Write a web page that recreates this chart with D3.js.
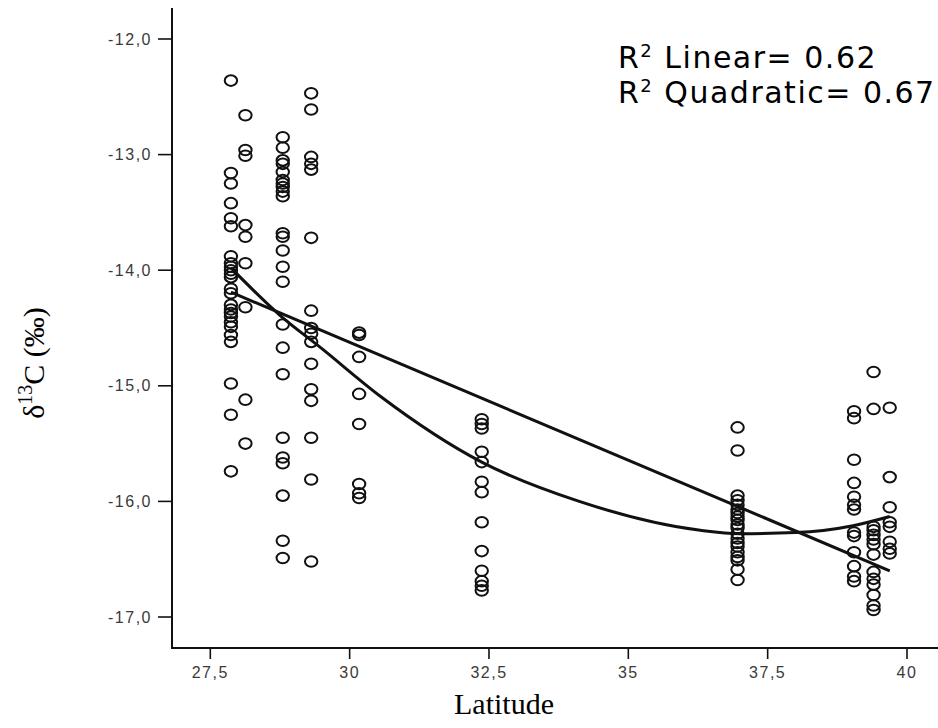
<!DOCTYPE html>
<html>
<head>
<meta charset="utf-8">
<script src="https://cdn.jsdelivr.net/npm/d3@7"></script>
<style>
  html, body { margin: 0; padding: 0; background: #fff; }
  svg { display: block; }
  .tick-label { font-family: "Liberation Sans Narrow", "Arial Narrow", "Liberation Sans", sans-serif; font-size: 16px; fill: #3a3a3a; letter-spacing: 1.5px; }
  .axis-title { font-family: "Liberation Serif", "Times New Roman", serif; fill: #000; }
  .fit-label { font-family: "DejaVu Sans", Verdana, sans-serif; font-size: 30px; letter-spacing: 1.5px; fill: #000; }
</style>
</head>
<body>
<script>
// Sampling sites: latitude of each site and the δ13C values measured there (‰)
const siteLatitudes = [27.87, 28.13, 28.80, 29.31, 30.17, 32.37, 36.96, 39.05, 39.40, 39.69];

const site1 = [-12.36, -13.16, -13.25, -13.42, -13.55, -13.62, -13.88, -13.94, -13.97, -14.00,
               -14.03, -14.06, -14.16, -14.20, -14.30, -14.34, -14.37, -14.40, -14.45, -14.49,
               -14.56, -14.62, -14.98, -15.25, -15.74];
const site2 = [-12.66, -12.96, -13.01, -13.61, -13.71, -13.94, -14.32, -15.12, -15.50];
const site3 = [-12.85, -12.94, -13.05, -13.08, -13.15, -13.22, -13.25, -13.28, -13.32, -13.36,
               -13.68, -13.71, -13.83, -13.97, -14.10, -14.47, -14.67, -14.90, -15.45, -15.62,
               -15.67, -15.95, -16.34, -16.49];
const site4 = [-12.47, -12.61, -13.02, -13.08, -13.13, -13.72, -14.35, -14.50, -14.55, -14.62,
               -14.81, -15.03, -15.13, -15.45, -15.81, -16.52];
const site5 = [-14.54, -14.56, -14.75, -15.07, -15.33, -15.85, -15.93, -15.97];
const site6 = [-15.29, -15.33, -15.37, -15.57, -15.66, -15.83, -15.92, -16.18, -16.43, -16.60,
               -16.69, -16.73, -16.77];
const site7 = [-15.36, -15.56, -15.95, -15.99, -16.03, -16.07, -16.10, -16.13, -16.16, -16.20,
               -16.23, -16.28, -16.32, -16.36, -16.39, -16.44, -16.48, -16.51, -16.59, -16.68];
const site8 = [-15.22, -15.28, -15.64, -15.84, -15.96, -16.03, -16.07, -16.27, -16.30, -16.44,
               -16.56, -16.65, -16.69];
const site9 = [-14.88, -15.20, -16.22, -16.25, -16.29, -16.33, -16.37, -16.46, -16.61, -16.67,
               -16.72, -16.81, -16.90, -16.94];
const site10 = [-15.19, -15.79, -16.05, -16.18, -16.22, -16.35, -16.41, -16.45];

// Fitted curves (linear and quadratic) as drawn
const linearFitLat = [27.87, 39.69];
const linearFitValues = [-14.19, -16.60];
const quadFitLat = [27.87, 28.75, 29.48, 30.55, 32.37, 34.12, 36.29, 37.0, 38.0, 39.03, 39.69];
const quadFitValues = [-13.98, -14.39, -14.67, -15.09, -15.66, -16.00, -16.25, -16.28, -16.27, -16.21, -16.13];

// Axis ticks
const xTicks = [27.5, 30, 32.5, 35, 37.5, 40];
const xTickLabels = ["27,5", "30", "32,5", "35", "37,5", "40"];
const yTicks = [-12, -13, -14, -15, -16, -17];
const yTickLabels = ["-12,0", "-13,0", "-14,0", "-15,0", "-16,0", "-17,0"];

const fitLabels = ["Linear= 0.62", "Quadratic= 0.67"];

const siteValues = [site1, site2, site3, site4, site5, site6, site7, site8, site9, site10];
const points = [];
siteValues.forEach((vals, i) => vals.forEach(v => points.push({ lat: siteLatitudes[i], d13c: v })));

const W = 938, H = 728;
const svg = d3.select("body").append("svg").attr("width", W).attr("height", H);

// Plot area: y axis at x=172, x axis at y=648
const x = d3.scaleLinear().domain([27.5, 40]).range([210.3, 907]);
const y = d3.scaleLinear().domain([-12, -17]).range([39, 617]);

const xLeft = 172, yBottom = 648, yTop = 8, xRight = W;

// Axis lines
svg.append("line").attr("x1", xLeft).attr("x2", xLeft).attr("y1", yTop).attr("y2", yBottom + 1)
  .attr("stroke", "#111").attr("stroke-width", 2);
svg.append("line").attr("x1", xLeft - 1).attr("x2", xRight).attr("y1", yBottom).attr("y2", yBottom)
  .attr("stroke", "#111").attr("stroke-width", 2);

// Y ticks
const yAxisG = svg.append("g");
yAxisG.selectAll("line").data(yTicks).join("line")
  .attr("x1", xLeft - 14).attr("x2", xLeft).attr("y1", d => y(d)).attr("y2", d => y(d))
  .attr("stroke", "#111").attr("stroke-width", 1.6);
yAxisG.selectAll("text").data(yTicks).join("text")
  .attr("class", "tick-label")
  .attr("x", xLeft - 20).attr("y", d => y(d) + 5.5)
  .attr("text-anchor", "end")
  .text((d, i) => yTickLabels[i]);

// X ticks
const xAxisG = svg.append("g");
xAxisG.selectAll("line").data(xTicks).join("line")
  .attr("x1", d => x(d)).attr("x2", d => x(d)).attr("y1", yBottom).attr("y2", yBottom + 11)
  .attr("stroke", "#111").attr("stroke-width", 1.6);
xAxisG.selectAll("text").data(xTicks).join("text")
  .attr("class", "tick-label")
  .attr("x", d => x(d)).attr("y", yBottom + 30)
  .attr("text-anchor", "middle")
  .text((d, i) => xTickLabels[i]);

// Scatter points (open ellipses)
svg.append("g").selectAll("ellipse").data(points).join("ellipse")
  .attr("cx", d => x(d.lat)).attr("cy", d => y(d.d13c))
  .attr("rx", 6.2).attr("ry", 5.3)
  .attr("fill", "none").attr("stroke", "#111").attr("stroke-width", 2);

// Fit lines
const lineGen = d3.line().x(d => x(d[0])).y(d => y(d[1]));
svg.append("path")
  .datum(linearFitLat.map((l, i) => [l, linearFitValues[i]]))
  .attr("d", lineGen)
  .attr("fill", "none").attr("stroke", "#111").attr("stroke-width", 3);
svg.append("path")
  .datum(quadFitLat.map((l, i) => [l, quadFitValues[i]]))
  .attr("d", lineGen.curve(d3.curveMonotoneX))
  .attr("fill", "none").attr("stroke", "#111").attr("stroke-width", 3);

// Goodness-of-fit annotations
const fitText = svg.append("g");
fitLabels.forEach((t, i) => {
  const tx = fitText.append("text").attr("class", "fit-label")
    .attr("x", 618).attr("y", 68 + i * 35);
  tx.append("tspan").text("R");
  tx.append("tspan").text("2").attr("font-size", "18px").attr("dy", -11);
  tx.append("tspan").text(" " + t).attr("dy", 11);
});

// Axis titles
svg.append("text").attr("class", "axis-title")
  .attr("x", 504).attr("y", 714).attr("text-anchor", "middle")
  .attr("font-size", 30).text("Latitude");

const yt = svg.append("text").attr("class", "axis-title")
  .attr("transform", "translate(44,363) rotate(-90)")
  .attr("text-anchor", "middle").attr("font-size", 30);
yt.append("tspan").text("δ");
yt.append("tspan").text("13").attr("font-size", 20).attr("dy", -12);
yt.append("tspan").text("C (‰)").attr("dy", 12);
</script>
</body>
</html>
